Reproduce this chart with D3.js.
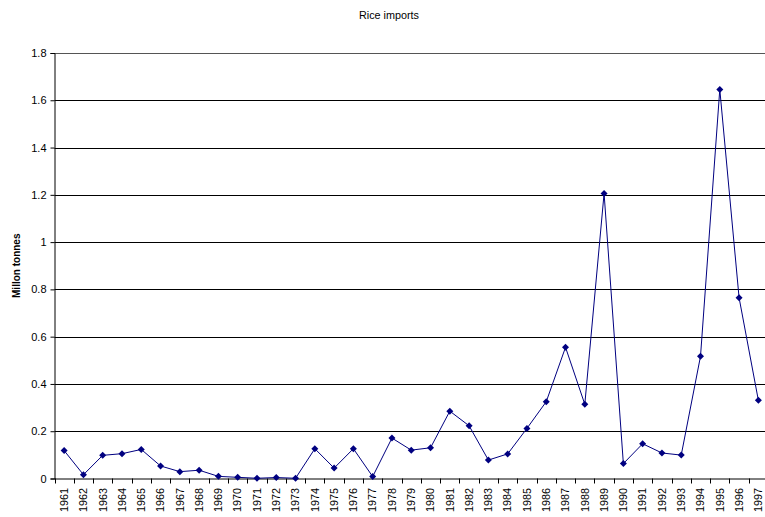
<!DOCTYPE html>
<html>
<head>
<meta charset="utf-8">
<script src="https://cdn.jsdelivr.net/npm/d3@7"></script>
<style>
  html, body { margin: 0; padding: 0; background: #fff; }
  svg { display: block; font-family: "Liberation Sans", Arial, sans-serif; }
</style>
</head>
<body>
<svg id="chart" width="765" height="517"></svg>
<script>
// Annual rice imports, million tonnes
const years = ["1961","1962","1963","1964","1965","1966","1967","1968","1969","1970",
  "1971","1972","1973","1974","1975","1976","1977","1978","1979","1980",
  "1981","1982","1983","1984","1985","1986","1987","1988","1989","1990",
  "1991","1992","1993","1994","1995","1996","1997"];
const imports = [0.118, 0.016, 0.098, 0.105, 0.123, 0.053, 0.029, 0.035, 0.009, 0.005,
  0.001, 0.004, 0.001, 0.126, 0.044, 0.126, 0.008, 0.171, 0.120, 0.130,
  0.285, 0.223, 0.078, 0.104, 0.212, 0.325, 0.555, 0.314, 1.206, 0.063,
  0.147, 0.108, 0.099, 0.517, 1.646, 0.765, 0.331];
const yTicks = [0, 0.2, 0.4, 0.6, 0.8, 1, 1.2, 1.4, 1.6, 1.8];
const title = "Rice imports";
const yLabel = "Millon tonnes";

const svg = d3.select("#chart");
const plotLeft = 54.5, plotRight = 768, plotTop = 53, plotBottom = 478.5;

const x = d3.scaleBand().domain(years).range([plotLeft, plotRight]);
const y = d3.scaleLinear().domain([0, 1.8]).range([plotBottom, plotTop]);

// Horizontal gridlines
svg.append("g")
  .selectAll("line")
  .data(yTicks.filter(d => d > 0))
  .join("line")
  .attr("x1", plotLeft).attr("x2", plotRight)
  .attr("y1", d => Math.round(y(d)) + 0.5).attr("y2", d => Math.round(y(d)) + 0.5)
  .attr("stroke", d => d === 1.8 ? "#555" : "#000").attr("stroke-width", 1);

// Y axis
const yAxis = svg.append("g")
  .attr("transform", `translate(${plotLeft},0)`)
  .call(d3.axisLeft(y).tickValues(yTicks).tickSize(4).tickPadding(4)
    .tickFormat(d => d3.format("")(+d.toFixed(1))));
yAxis.select(".domain").attr("stroke", "#000");
yAxis.selectAll(".tick line").attr("stroke", "#000");
yAxis.selectAll(".tick text")
  .attr("font-size", 11).attr("fill", "#000")
  .attr("font-family", "Liberation Sans, Arial, sans-serif");

// X axis: ticks at category boundaries
const xAxisG = svg.append("g").attr("transform", `translate(0,${plotBottom})`);
xAxisG.append("line")
  .attr("x1", plotLeft).attr("x2", plotRight).attr("y1", 0.5).attr("y2", 0.5)
  .attr("stroke", "#000");
xAxisG.selectAll("line.tk")
  .data(years)
  .join("line")
  .attr("class", "tk")
  .attr("x1", d => Math.round(x(d)) + 0.5).attr("x2", d => Math.round(x(d)) + 0.5)
  .attr("y1", 0).attr("y2", 5)
  .attr("stroke", "#000");
xAxisG.selectAll("text")
  .data(years)
  .join("text")
  .attr("transform", d => `translate(${x(d) + x.bandwidth() / 2 + 3.8},9.5) rotate(-90)`)
  .attr("text-anchor", "end")
  .attr("font-size", 10.8)
  .attr("fill", "#000")
  .text(d => d);

// Series line
const pts = years.map((yr, i) => [x(yr) + x.bandwidth() / 2, y(imports[i])]);
svg.append("path")
  .attr("d", d3.line()(pts))
  .attr("fill", "none")
  .attr("stroke", "#000080")
  .attr("stroke-width", 1);

// Diamond markers
svg.append("g")
  .selectAll("path")
  .data(pts)
  .join("path")
  .attr("transform", d => `translate(${d[0]},${d[1]})`)
  .attr("d", "M0,-3.5L3.5,0L0,3.5L-3.5,0Z")
  .attr("fill", "#000080");

// Title
svg.append("text")
  .attr("x", 389).attr("y", 19)
  .attr("text-anchor", "middle")
  .attr("font-size", 10.8)
  .text(title);

// Y axis title
svg.append("text")
  .attr("transform", `translate(20,${(plotTop + plotBottom) / 2}) rotate(-90)`)
  .attr("text-anchor", "middle")
  .attr("font-size", 10)
  .attr("font-weight", "bold")
  .text(yLabel);
</script>
</body>
</html>
